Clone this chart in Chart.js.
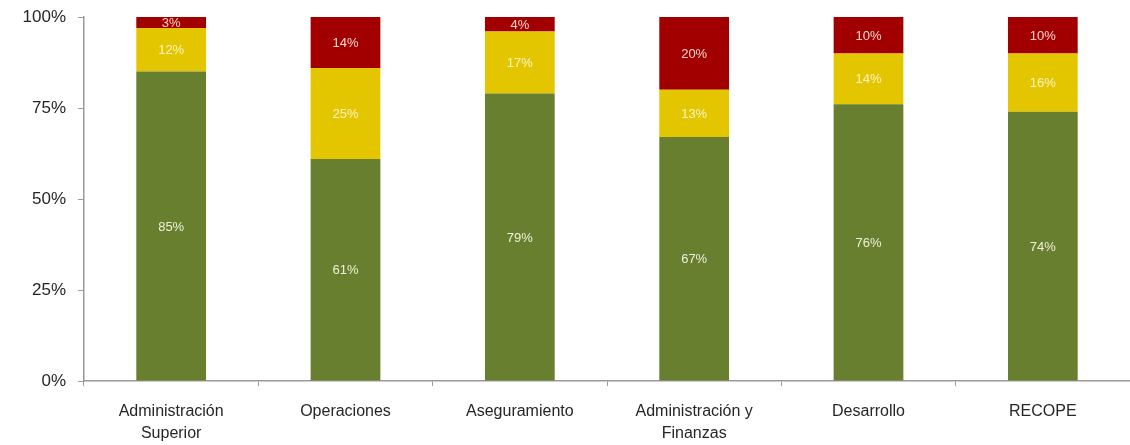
<!DOCTYPE html>
<html>
<head>
<meta charset="utf-8">
<script src="https://cdn.jsdelivr.net/npm/chart.js@4/dist/chart.umd.min.js"></script>
<style>
  html, body { margin: 0; padding: 0; background: #ffffff; }
  #wrap { width: 1130px; height: 445px; }
</style>
</head>
<body>
<div id="wrap"><canvas id="chart" width="1130" height="445"></canvas></div>
<script>
// Areas (two-line labels are arrays)
const categories = [
  ['Administración', 'Superior'],
  'Operaciones',
  'Aseguramiento',
  ['Administración y', 'Finanzas'],
  'Desarrollo',
  'RECOPE'
];

// Share of each level per area, in percent
const greenValues  = [85, 61, 79, 67, 76, 74];
const yellowValues = [12, 25, 17, 13, 14, 16];
const redValues    = [3, 14, 4, 20, 10, 10];

const yTickValues = [0, 25, 50, 75, 100];

const colors = {
  green: '#687f2f',
  yellow: '#e3c600',
  red: '#a20000'
};

// Writes each segment's value in its centre
const segmentLabels = {
  id: 'segmentLabels',
  afterDatasetsDraw(chart) {
    const ctx = chart.ctx;
    ctx.save();
    ctx.font = '13px "Liberation Sans", Arial, sans-serif';
    ctx.textAlign = 'center';
    ctx.textBaseline = 'middle';
    chart.data.datasets.forEach((ds, di) => {
      const meta = chart.getDatasetMeta(di);
      ctx.fillStyle = ds.labelColor;
      meta.data.forEach((bar, i) => {
        const v = ds.data[i];
        const yMid = (bar.y + bar.base) / 2;
        ctx.fillText(v + '%', bar.x, yMid + 1);
      });
    });
    ctx.restore();
  }
};

new Chart(document.getElementById('chart'), {
  type: 'bar',
  data: {
    labels: categories,
    datasets: [
      { label: 'Verde', data: greenValues, backgroundColor: colors.green, labelColor: '#eef0d8' },
      { label: 'Amarillo', data: yellowValues, backgroundColor: colors.yellow, labelColor: '#fbf3c8' },
      { label: 'Rojo', data: redValues, backgroundColor: colors.red, labelColor: '#f6d8d0' }
    ]
  },
  options: {
    responsive: false,
    animation: false,
    layout: { padding: { top: 17, right: 0, bottom: 0, left: 0 } },
    datasets: { bar: { barPercentage: 0.4, categoryPercentage: 1.0 } },
    plugins: {
      legend: { display: false },
      tooltip: { enabled: false }
    },
    scales: {
      x: {
        stacked: true,
        offset: true,
        grid: {
          display: true,
          offset: true,
          drawOnChartArea: false,
          drawTicks: true,
          tickLength: 5,
          color: '#9a9a9a'
        },
        border: { display: true, color: '#9a9a9a', width: 1.5 },
        ticks: {
          color: '#262626',
          font: { family: '"Liberation Sans", Arial, sans-serif', size: 16, lineHeight: 1.4 },
          padding: 14,
          maxRotation: 0,
          autoSkip: false
        },
        afterFit(scale) {
          scale.height = 64;
          scale.paddingLeft = 0;
          scale.paddingRight = 0;
          scale.paddingTop = 0;
          scale.paddingBottom = 0;
        }
      },
      y: {
        stacked: true,
        min: 0,
        max: 100,
        afterBuildTicks(scale) {
          scale.ticks = yTickValues.map(v => ({ value: v }));
        },
        grid: {
          display: true,
          drawOnChartArea: false,
          drawTicks: true,
          tickLength: 6,
          color: '#9a9a9a'
        },
        border: { display: true, color: '#9a9a9a', width: 1.5 },
        ticks: {
          color: '#262626',
          font: { family: '"Liberation Sans", Arial, sans-serif', size: 17 },
          padding: 12,
          callback: v => v + '%'
        },
        afterFit(scale) {
          scale.width = 84;
          scale.paddingTop = 0;
          scale.paddingBottom = 0;
        }
      }
    }
  },
  plugins: [segmentLabels]
});
</script>
</body>
</html>
